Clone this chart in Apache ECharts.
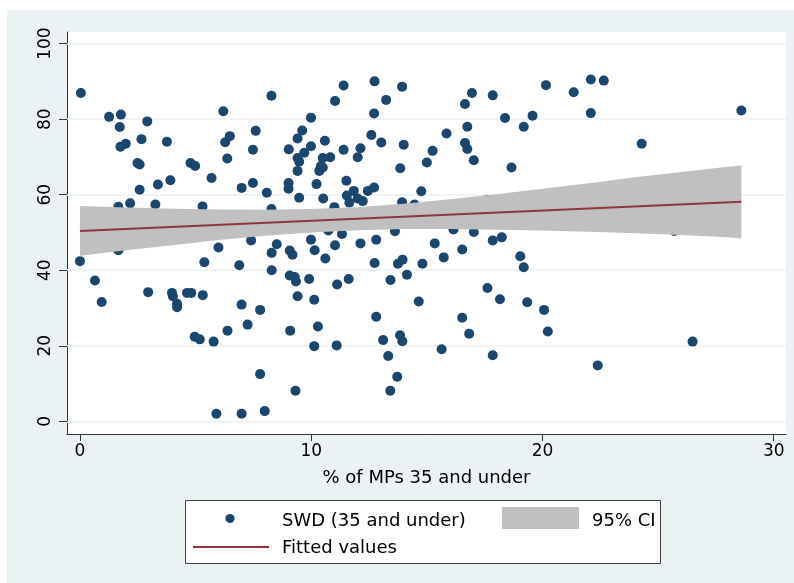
<!DOCTYPE html>
<html>
<head>
<meta charset="utf-8">
<script src="https://cdn.jsdelivr.net/npm/echarts@6/dist/echarts.min.js"></script>
<style>html,body{margin:0;padding:0;background:#fff}#c{width:794px;height:583px}</style>
</head>
<body>
<div id="c"></div>
<script>
// % of MPs 35 and under (x) and SWD (35 and under) (y)
const swdX = [0.04,1.26,1.77,1.72,2.91,1.75,1.98,2.66,3.76,6.20,6.48,6.28,6.37,2.49,2.58,4.78,4.98,5.69,3.91,3.37,2.58,6.99,2.17,1.66,3.26,5.30,
  0.0,1.66,5.99,5.38,6.89,0.65,0.94,2.95,3.98,4.02,4.20,4.20,4.63,4.81,5.31,6.99,4.96,5.18,5.78,6.38,5.90,6.99,
  8.28,7.60,7.48,7.48,8.08,11.40,12.74,13.93,11.03,13.24,9.99,12.72,9.61,9.41,9.03,9.99,9.70,9.41,9.48,9.41,10.59,10.50,10.82,10.42,10.35,10.50,11.40,12.13,12.01,12.60,13.03,14.00,13.85,15.00,9.02,9.02,10.23,9.48,10.52,11.52,11.54,11.84,12.01,12.23,12.45,12.72,14.76,13.93,8.28,11.00,14.47,
  7.40,8.51,8.29,9.07,9.19,9.99,10.15,10.61,11.03,12.13,12.81,10.74,11.33,13.62,8.29,9.07,9.29,9.34,9.91,11.12,11.62,12.74,13.75,13.95,13.43,14.14,14.81,14.65,9.41,10.13,7.79,7.25,9.09,10.29,10.13,11.10,12.81,13.11,13.84,13.94,13.33,13.72,13.42,7.79,9.32,7.99,
  20.15,21.35,22.09,22.65,22.09,16.95,16.65,17.85,18.38,19.57,19.19,16.75,15.85,16.65,16.75,15.25,17.03,18.66,
  28.60,24.29,
  16.15,17.03,17.85,18.24,15.34,16.53,15.73,19.04,19.19,17.62,18.16,19.34,20.07,16.53,16.83,20.23,15.64,17.85,22.39,
  26.49,25.70,17.60,11.65];
const swdY = [86.9,80.6,81.2,77.9,79.4,72.7,73.5,74.7,74.0,82.1,75.5,73.9,69.6,68.4,68.0,68.4,67.6,64.4,63.8,62.7,61.3,61.8,57.7,56.8,57.4,56.9,
  42.4,45.3,46.0,42.1,41.3,37.3,31.6,34.2,34.0,33.1,31.1,30.2,34.0,34.0,33.4,30.9,22.4,21.7,21.1,24.0,2.0,2.0,
  86.2,76.9,71.9,63.1,60.5,88.9,90.0,88.6,84.8,85.1,80.4,81.5,77.0,74.9,72.0,72.8,71.1,69.7,68.7,66.3,74.3,69.7,69.9,67.6,66.3,67.2,71.9,72.3,69.9,75.8,73.8,73.2,67.0,68.5,63.1,61.6,62.8,59.2,59.0,63.7,59.8,61.0,59.0,58.3,61.0,61.9,60.9,58.0,56.2,56.7,57.4,
  47.9,46.9,44.6,45.2,44.1,48.1,45.3,43.1,46.6,47.1,48.1,50.5,49.6,50.3,40.0,38.6,38.2,37.0,37.7,36.2,37.7,41.9,41.7,42.8,37.4,38.8,41.7,31.7,33.1,32.2,29.5,25.6,24.0,25.1,19.9,20.1,27.7,21.5,22.8,21.2,17.3,11.8,8.1,12.5,8.1,2.7,
  89.0,87.1,90.5,90.2,81.6,86.9,84.0,86.3,80.3,80.9,78.0,78.0,76.2,73.7,72.1,71.6,69.1,67.2,
  82.3,73.5,
  50.8,50.1,47.9,48.7,47.1,45.5,43.4,43.7,40.8,35.3,32.3,31.5,29.5,27.4,23.2,23.8,19.1,17.5,14.8,
  21.1,50.4,58.6,57.9];

// Fitted values (linear fit) and its 95% CI band
const fitX = [0, 28.6];
const fitY = [50.4, 58.1];
const ciX  = [0, 2, 4, 6, 8, 10, 12, 14, 16, 18, 20, 22, 24, 26, 28, 28.6];
const ciLo = [43.8,45.3,46.6,48.0,49.1,50.0,50.6,50.9,50.9,50.7,50.5,50.2,49.8,49.3,48.7,48.4];
const ciHi = [57.0,56.6,56.3,56.1,56.0,56.2,56.7,57.6,58.8,60.1,61.6,63.0,64.6,66.0,67.4,67.8];

// Axis ticks
const xTicks = [0, 10, 20, 30];
const yTicks = [0, 20, 40, 60, 80, 100];
const xTitle = '% of MPs 35 and under';
const legendNames = ['SWD (35 and under)', '95% CI', 'Fitted values'];

const NAVY = '#1a476f', MAROON = '#90353b', CIGRAY = '#c0c0c0', BLUISH = '#eaf2f3';
const FONT = 'DejaVu Sans';

const chart = echarts.init(document.getElementById('c'), null, {renderer: 'canvas'});
const option = {
  animation: false,
  backgroundColor: '#ffffff',
  textStyle: {fontFamily: FONT},
  grid: {left: 67, right: 8, top: 32, bottom: 149, containLabel: false},
  xAxis: {
    type: 'value', min: -0.56, max: 30.53,
    axisLine: {show: true, onZero: false, lineStyle: {color: '#333', width: 1}},
    axisTick: {show: true, length: 7, customValues: xTicks, lineStyle: {color: '#333'}},
    axisLabel: {show: true, customValues: xTicks, margin: 9, fontSize: 17, color: '#000', fontFamily: FONT},
    splitLine: {show: false},
    name: xTitle, nameLocation: 'middle', nameGap: 35,
    nameTextStyle: {fontSize: 18, color: '#000', fontFamily: FONT}
  },
  yAxis: {
    type: 'value', min: -3.36, max: 103.07,
    axisLine: {show: true, onZero: false, lineStyle: {color: '#333', width: 1}},
    axisTick: {show: true, length: 8, customValues: yTicks, lineStyle: {color: '#333'}},
    axisLabel: {show: true, customValues: yTicks, rotate: 90, margin: 13, fontSize: 17, color: '#000', fontFamily: FONT},
    splitLine: {show: false}
  },
  graphic: {elements: [
    {type: 'rect', z: -100, silent: true, shape: {x: 7, y: 10, width: 787, height: 573}, style: {fill: BLUISH}},
    {type: 'rect', z: -99, silent: true, shape: {x: 67, y: 32, width: 719, height: 402}, style: {fill: '#ffffff'}},
    {type: 'rect', z: 50, silent: true, shape: {x: 185.5, y: 500.5, width: 475, height: 63}, style: {fill: '#ffffff', stroke: '#404040', lineWidth: 1}},
    {type: 'circle', z: 51, silent: true, shape: {cx: 230, cy: 518.5, r: 4.6}, style: {fill: NAVY}},
    {type: 'text', z: 51, silent: true, x: 282, y: 521, style: {text: legendNames[0], fill: '#000', font: '18px "DejaVu Sans"', verticalAlign: 'middle', align: 'left'}},
    {type: 'rect', z: 51, silent: true, shape: {x: 502, y: 507, width: 77, height: 22}, style: {fill: CIGRAY}},
    {type: 'text', z: 51, silent: true, x: 592, y: 521, style: {text: legendNames[1], fill: '#000', font: '18px "DejaVu Sans"', verticalAlign: 'middle', align: 'left'}},
    {type: 'line', z: 51, silent: true, shape: {x1: 193, y1: 547, x2: 269, y2: 547}, style: {stroke: MAROON, lineWidth: 2}},
    {type: 'text', z: 51, silent: true, x: 282, y: 548, style: {text: legendNames[2], fill: '#000', font: '18px "DejaVu Sans"', verticalAlign: 'middle', align: 'left'}}
  ]},
  series: [
    {
      name: legendNames[0], type: 'scatter', z: 2,
      symbol: 'circle', symbolSize: 10,
      itemStyle: {color: NAVY, opacity: 1},
      data: swdX.map((x, i) => [x, swdY[i]]),
      markLine: {
        z: 1, silent: true, symbol: ['none', 'none'], label: {show: false},
        lineStyle: {color: BLUISH, type: 'solid', width: 1.5},
        emphasis: {disabled: true},
        data: yTicks.map(v => ({yAxis: v}))
      }
    },
    {
      name: legendNames[1], type: 'custom', z: 3, clip: true,
      data: ciX.map((x, i) => [x, ciLo[i], ciHi[i]]),
      encode: {x: 0, y: [1, 2]},
      renderItem: function (params, api) {
        if (params.dataIndex !== 0) return null;
        const pts = [];
        for (let i = 0; i < ciX.length; i++) pts.push(api.coord([ciX[i], ciHi[i]]));
        for (let i = ciX.length - 1; i >= 0; i--) pts.push(api.coord([ciX[i], ciLo[i]]));
        return {type: 'polygon', shape: {points: pts}, style: {fill: CIGRAY}};
      }
    },
    {
      name: legendNames[2], type: 'line', z: 4,
      symbol: 'none', lineStyle: {color: MAROON, width: 2},
      data: fitX.map((x, i) => [x, fitY[i]])
    }
  ]
};
chart.setOption(option);
</script>
</body>
</html>
